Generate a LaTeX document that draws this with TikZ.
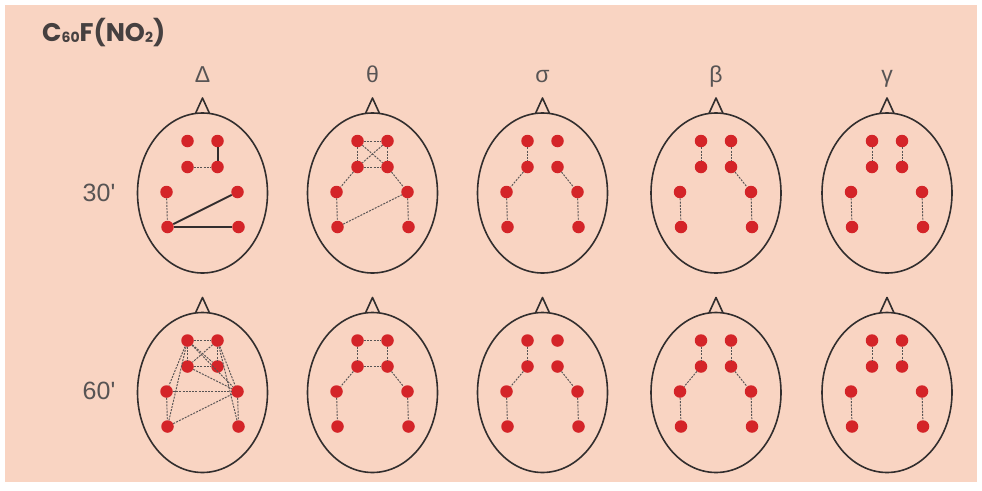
\documentclass[tikz,border=0pt]{standalone}
\usepackage{fontspec}
\setmainfont{Liberation Sans}
\newfontfamily\titlefont{Poppins}
\definecolor{bgpink}{RGB}{249,212,194}
\definecolor{dotred}{RGB}{212,36,40}
\definecolor{inkdark}{RGB}{50,46,46}
\definecolor{inkgray}{RGB}{88,84,84}
\definecolor{titlegray}{RGB}{70,64,64}
\tikzset{
  headline/.style={draw=inkdark, line width=1.6pt, line join=round},
  dot/.style={circle, fill=dotred, inner sep=0pt, minimum size=12.5pt},
  dl/.style={draw=inkgray, line width=0.95pt, dash pattern=on 2pt off 1.2pt},
  sl/.style={draw=inkdark, line width=2pt},
  lbl/.style={text=inkgray, font=\fontsize{23}{27}\selectfont, anchor=base},
  timelbl/.style={text=inkgray, font=\fontsize{25}{30}\selectfont, anchor=base},
}
\newcommand{\eeghead}[3]{%
  \begin{scope}[shift={(#2,#3)}]
    \draw[headline] (-7,-79.6) -- (0,-95) -- (7,-79.6);
    \draw[headline] (0,0) ellipse [x radius=65, y radius=80];
    \node[dot] (#1a) at (-15,-52) {};
    \node[dot] (#1b) at (15,-52) {};
    \node[dot] (#1c) at (-15,-26) {};
    \node[dot] (#1d) at (15,-26) {};
    \node[dot] (#1e) at (-36,-1) {};
    \node[dot] (#1f) at (35,-1) {};
    \node[dot] (#1g) at (-35,34) {};
    \node[dot] (#1h) at (36,34) {};
  \end{scope}}
\begin{document}
\begin{tikzpicture}[x=1pt,y=-1pt]
  \useasboundingbox (0,0) rectangle (982,490);
  \fill[white] (0,0) rectangle (982,490);
  \fill[bgpink] (5,5) rectangle (977,482);

  \node[anchor=base west, text=titlegray, font=\titlefont\bfseries\fontsize{25.5}{29}\selectfont, inner sep=0pt] (title) at (42,41) {C\raisebox{-0.12ex}{\fontsize{14}{15}\selectfont 60}F(NO\raisebox{-0.12ex}{\fontsize{14}{15}\selectfont 2})};

  \node[lbl] (lD) at (202.5,82) {Δ};
  \node[lbl] (lT) at (372.5,82) {θ};
  \node[lbl] (lS) at (542.5,82) {σ};
  \node[lbl] (lB) at (716,82) {β};
  \node[lbl] (lG) at (887,82) {γ};

  \node[timelbl] (t30) at (99,201) {30\textquotesingle};
  \node[timelbl] (t60) at (99,399) {60\textquotesingle};

  % row 1
  \eeghead{A}{202.5}{193}
  \eeghead{B}{372.5}{193}
  \eeghead{C}{542.5}{193}
  \eeghead{D}{716}{193}
  \eeghead{E}{887}{193}
  % row 2
  \eeghead{F}{202.5}{392.5}
  \eeghead{G}{372.5}{392.5}
  \eeghead{H}{542.5}{392.5}
  \eeghead{I}{716}{392.5}
  \eeghead{J}{887}{392.5}

  % row 1 Delta
  \draw[sl] (Ab) -- (Ad);
  \draw[dl] (Ac) -- (Ad);
  \draw[dl] (Ae) -- (Ag);
  \draw[sl] (Ag) -- (Af);
  \draw[sl] (Ag) -- (Ah);
  % row 1 theta
  \draw[dl] (Ba) -- (Bb);
  \draw[dl] (Bc) -- (Bd);
  \draw[dl] (Ba) -- (Bc);
  \draw[dl] (Bb) -- (Bd);
  \draw[dl] (Ba) -- (Bd);
  \draw[dl] (Bb) -- (Bc);
  \draw[dl] (Bc) -- (Be);
  \draw[dl] (Bd) -- (Bf);
  \draw[dl] (Be) -- (Bg);
  \draw[dl] (Bf) -- (Bh);
  \draw[dl] (Bg) -- (Bf);
  % row 1 sigma
  \draw[dl] (Ca) -- (Cc);
  \draw[dl] (Cc) -- (Ce);
  \draw[dl] (Cd) -- (Cf);
  \draw[dl] (Ce) -- (Cg);
  \draw[dl] (Cf) -- (Ch);
  % row 1 beta
  \draw[dl] (Da) -- (Dc);
  \draw[dl] (Db) -- (Dd);
  \draw[dl] (Dd) -- (Df);
  \draw[dl] (De) -- (Dg);
  \draw[dl] (Df) -- (Dh);
  % row 1 gamma
  \draw[dl] (Ea) -- (Ec);
  \draw[dl] (Eb) -- (Ed);
  \draw[dl] (Ee) -- (Eg);
  \draw[dl] (Ef) -- (Eh);

  % row 2 Delta
  \draw[dl] (Fa) -- (Fb);
  \draw[dl] (Fc) -- (Fd);
  \draw[dl] (Fa) -- (Fc);
  \draw[dl] (Fb) -- (Fd);
  \draw[dl] (Fa) -- (Fd);
  \draw[dl] (Fb) -- (Fc);
  \draw[dl] (Fa) -- (Fe);
  \draw[dl] (Fa) -- (Fg);
  \draw[dl] (Fb) -- (Ff);
  \draw[dl] (Fb) -- (Fh);
  \draw[dl] (Fa) -- (Ff);
  \draw[dl] (Fc) -- (Ff);
  \draw[dl] (Fe) -- (Ff);
  \draw[dl] (Fg) -- (Ff);
  \draw[dl] (Fe) -- (Fg);
  \draw[dl] (Ff) -- (Fh);
  % row 2 theta
  \draw[dl] (Ga) -- (Gb);
  \draw[dl] (Gc) -- (Gd);
  \draw[dl] (Ga) -- (Gc);
  \draw[dl] (Gb) -- (Gd);
  \draw[dl] (Gc) -- (Ge);
  \draw[dl] (Gd) -- (Gf);
  \draw[dl] (Ge) -- (Gg);
  \draw[dl] (Gf) -- (Gh);
  % row 2 sigma
  \draw[dl] (Ha) -- (Hc);
  \draw[dl] (Hc) -- (He);
  \draw[dl] (Hd) -- (Hf);
  \draw[dl] (He) -- (Hg);
  \draw[dl] (Hf) -- (Hh);
  % row 2 beta
  \draw[dl] (Ia) -- (Ic);
  \draw[dl] (Ib) -- (Id);
  \draw[dl] (Ic) -- (Ie);
  \draw[dl] (Id) -- (If);
  \draw[dl] (Ie) -- (Ig);
  \draw[dl] (If) -- (Ih);
  % row 2 gamma
  \draw[dl] (Ja) -- (Jc);
  \draw[dl] (Jb) -- (Jd);
  \draw[dl] (Je) -- (Jg);
  \draw[dl] (Jf) -- (Jh);
\end{tikzpicture}
\end{document}
